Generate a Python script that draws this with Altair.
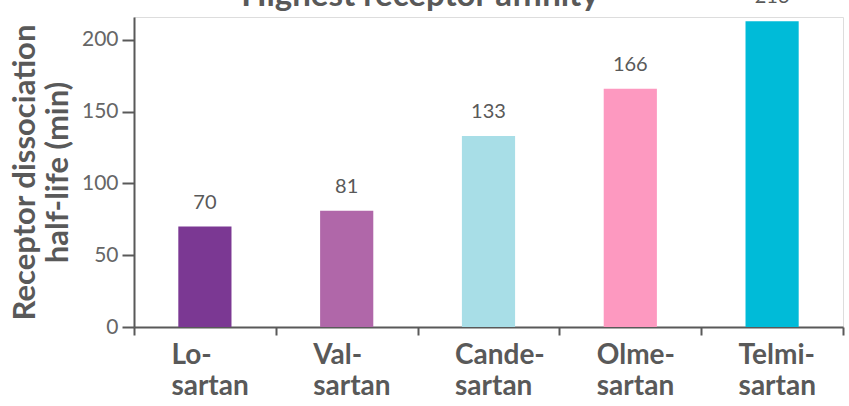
import altair as alt
import pandas as pd

categories = ["Lo-|sartan", "Val-|sartan", "Cande-|sartan", "Olme-|sartan", "Telmi-|sartan"]
half_life = [70, 81, 133, 166, 213]
bar_colors = ["#7B3893", "#B067A9", "#A8DEE7", "#FD99C0", "#00BBD8"]
y_ticks = [0, 50, 100, 150, 200]
title_text = ["Highest receptor affinity"]
y_title = ["Receptor dissociation", "half-life (min)"]

df = pd.DataFrame({"drug": categories, "half_life": half_life})
title_df = pd.DataFrame({"title": title_text})

GRAY = "#595959"
FONT = "Lato"

x = alt.X(
    "drug:N",
    sort=categories,
    title=None,
    scale=alt.Scale(paddingInner=0, paddingOuter=0),
    axis=alt.Axis(
        tickBand="extent",
        labelExpr="isValid(datum.value) ? split(datum.value, '|') : ''",
        labelAlign="left",
        labelOffset=-34,
        labelAngle=0,
        labelFont=FONT,
        labelFontSize=28,
        labelFontWeight="bold",
        labelColor=GRAY,
        labelLineHeight=31,
        labelPadding=6,
        ticks=True,
        tickSize=8,
        tickWidth=2,
        tickColor=GRAY,
        domainColor=GRAY,
        domainWidth=2,
        grid=False,
    ),
)

y = alt.Y(
    "half_life:Q",
    scale=alt.Scale(domain=[0, 216], nice=False),
    axis=alt.Axis(
        values=y_ticks,
        title=y_title,
        titleFont=FONT,
        titleFontSize=31,
        titleFontWeight="bold",
        titleColor=GRAY,
        titleLineHeight=33,
        titlePadding=7,
        labelFont=FONT,
        labelFontSize=21,
        labelColor="#666666",
        labelPadding=4,
        tickSize=12,
        tickWidth=2,
        tickColor=GRAY,
        domainColor=GRAY,
        domainWidth=2,
        grid=False,
    ),
)

bars = alt.Chart(df).mark_bar(width=alt.RelativeBandSize(0.375)).encode(
    x=x,
    y=y,
    color=alt.Color("drug:N", scale=alt.Scale(domain=categories, range=bar_colors), legend=None),
)

labels = alt.Chart(df).mark_text(
    dy=-18, baseline="alphabetic", font=FONT, fontSize=20, color=GRAY
).encode(
    x=alt.X("drug:N", sort=categories),
    y=alt.Y("half_life:Q"),
    text=alt.Text("half_life:Q"),
)

title_mark = alt.Chart(title_df).mark_text(
    baseline="alphabetic", align="center", font=FONT, fontSize=33,
    fontWeight="bold", color=GRAY,
).encode(
    text="title:N",
    x=alt.value(286),
    y=alt.value(-11),
)

chart = (
    alt.layer(bars, labels, title_mark)
    .properties(
        width=709,
        height=310,
        autosize=alt.AutoSizeParams(type="none"),
        padding={"left": 134, "top": 17, "right": 6, "bottom": 79},
    )
    .configure_view(stroke=None)
    .configure(background="white")
)

chart.save("out.html", embed_options={"renderer": "svg", "actions": False})
